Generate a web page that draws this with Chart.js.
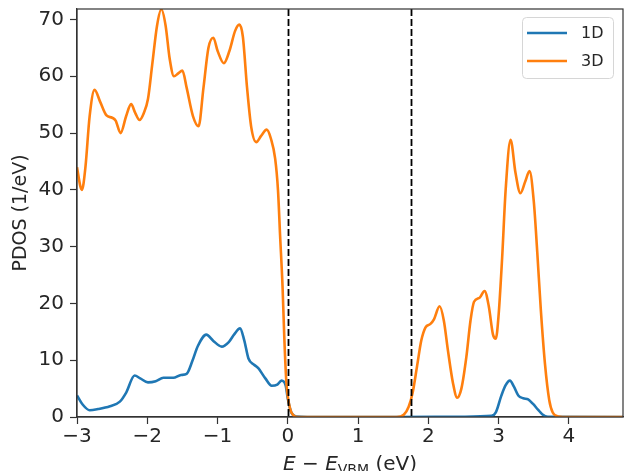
<!DOCTYPE html>
<html>
<head>
<meta charset="utf-8">
<script src="https://cdn.jsdelivr.net/npm/chart.js@4/dist/chart.umd.min.js"></script>
<style>
  body { margin: 0; background: #fff; }
  canvas { display: block; }
</style>
</head>
<body>
<canvas id="pdos" width="625" height="471"></canvas>
<script>
// PDOS
const x1D = [-3, -2.92, -2.82, -2.7, -2.53, -2.39, -2.3, -2.18, -2.1, -1.99, -1.88, -1.77, -1.63, -1.52, -1.44, -1.36, -1.28, -1.16, -1.06, -0.94, -0.84, -0.76, -0.68, -0.62, -0.56, -0.48, -0.42, -0.32, -0.23, -0.15, -0.09, -0.03, 0, 0.05, 0.12, 0.5, 1.5, 2.5, 2.9, 2.96, 3.04, 3.1, 3.16, 3.22, 3.28, 3.35, 3.42, 3.49, 3.56, 3.62, 3.7, 4.77];
const y1D = [3.8, 2.2, 1.2, 1.4, 1.9, 2.7, 4.3, 7.3, 6.8, 6.1, 6.3, 6.9, 6.9, 7.4, 7.6, 9.8, 12.5, 14.5, 13.4, 12.4, 13.2, 14.6, 15.6, 13.5, 10.3, 9.2, 8.6, 6.8, 5.5, 5.7, 6.4, 5.5, 3.2, 0.8, 0.1, 0, 0, 0.05, 0.2, 0.8, 3.8, 5.6, 6.4, 5.3, 3.8, 3.3, 3.1, 2.3, 1.3, 0.5, 0.05, 0];

const x3D = [-3, -2.95, -2.93, -2.88, -2.82, -2.75, -2.67, -2.58, -2.5, -2.45, -2.38, -2.3, -2.23, -2.17, -2.11, -2.05, -1.99, -1.93, -1.86, -1.8, -1.74, -1.68, -1.62, -1.56, -1.5, -1.44, -1.35, -1.27, -1.2, -1.13, -1.06, -1.0, -0.91, -0.83, -0.75, -0.69, -0.64, -0.58, -0.52, -0.45, -0.38, -0.3, -0.24, -0.18, -0.14, -0.11, -0.075, -0.05, -0.02, 0.03, 0.08, 0.15, 1.55, 1.65, 1.72, 1.78, 1.84, 1.9, 1.96, 2.03, 2.08, 2.16, 2.22, 2.28, 2.35, 2.41, 2.47, 2.54, 2.6, 2.65, 2.73, 2.8, 2.86, 2.92, 2.96, 3.0, 3.05, 3.1, 3.17, 3.24, 3.31, 3.38, 3.44, 3.5, 3.55, 3.6, 3.66, 3.72, 3.77, 3.85, 4.0, 4.77];
const y3D = [44.0, 40.5, 40.0, 44, 53, 57.6, 55.5, 53.1, 52.7, 52.2, 50.0, 53, 55.1, 53.5, 52.3, 53.5, 56, 62, 69, 71.8, 69, 63, 60, 60.5, 61.0, 58, 53, 51.2, 58, 65, 66.8, 64.5, 62.3, 64.5, 68, 69.1, 67, 58, 51, 48.4, 49.5, 50.6, 49, 45.5, 40, 32, 23, 14, 6, 1.6, 0.3, 0, 0, 0.4, 1.8, 4.5, 9, 13.5, 15.8, 16.4, 17.2, 19.5, 17, 11.6, 6, 3.4, 5, 10.5, 17, 20.3, 21.0, 22.2, 19.5, 14.5, 13.8, 18, 28, 40, 48.8, 43, 39.4, 41.5, 43.3, 38, 29, 19, 9.3, 3, 0.8, 0.1, 0, 0];

const xTicks = [-3, -2, -1, 0, 1, 2, 3, 4];
const yTicks = [0, 10, 20, 30, 40, 50, 60, 70];
const vLines = [0, 1.75]; // VBM and CBM

const FONT = "'DejaVu Sans', sans-serif";
const INK = '#262626';

const toPoints = (xs, ys) => xs.map((x, i) => ({ x, y: ys[i] }));

const framePlugin = {
  id: 'frame',
  afterDatasetsDraw(chart) {
    const { ctx, chartArea: a, scales } = chart;
    ctx.save();
    ctx.strokeStyle = '#000';
    ctx.lineWidth = 1.8;
    ctx.setLineDash([7, 3]);
    vLines.forEach((v) => {
      const px = Math.round(scales.x.getPixelForValue(v)) + 0.5;
      ctx.beginPath();
      ctx.moveTo(px, a.top);
      ctx.lineTo(px, a.bottom);
      ctx.stroke();
    });
    ctx.restore();
  },
  afterDraw(chart) {
    const { ctx, chartArea: a } = chart;
    ctx.save();
    // box around the axes
    ctx.strokeStyle = '#333';
    ctx.lineWidth = 1.2;
    ctx.strokeRect(a.left, a.top, a.right - a.left, a.bottom - a.top);

    // legend, upper right
    const lx = 522, ly = 17, lw = 91, lh = 61;
    ctx.fillStyle = 'rgba(255,255,255,0.8)';
    ctx.strokeStyle = '#d6d6d6';
    ctx.lineWidth = 1;
    ctx.beginPath();
    ctx.roundRect(lx + 0.5, ly + 0.5, lw, lh, 4);
    ctx.fill();
    ctx.stroke();
    chart.data.datasets.forEach((ds, i) => {
      const y = 33 + i * 28;
      ctx.strokeStyle = ds.borderColor;
      ctx.lineWidth = ds.borderWidth;
      ctx.beginPath();
      ctx.moveTo(527, y);
      ctx.lineTo(567, y);
      ctx.stroke();
      ctx.fillStyle = INK;
      ctx.font = `16px ${FONT}`;
      ctx.textAlign = 'left';
      ctx.textBaseline = 'middle';
      ctx.fillText(ds.label, 581, y + 1);
    });

    // x axis title: E − E_VBM (eV)
    const parts = [
      { t: 'E', f: `italic 20px ${FONT}`, dy: 0 },
      { t: ' \u2212 ', f: `20px ${FONT}`, dy: 0 },
      { t: 'E', f: `italic 20px ${FONT}`, dy: 0 },
      { t: 'VBM', f: `14px ${FONT}`, dy: 4 },
      { t: ' (eV)', f: `20px ${FONT}`, dy: 0 }
    ];
    let total = 0;
    parts.forEach((p) => { ctx.font = p.f; p.w = ctx.measureText(p.t).width; total += p.w; });
    let cx = (a.left + a.right) / 2 - total / 2;
    const base = 470;
    ctx.fillStyle = INK;
    ctx.textAlign = 'left';
    ctx.textBaseline = 'alphabetic';
    parts.forEach((p) => {
      ctx.font = p.f;
      ctx.fillText(p.t, cx, base + p.dy);
      cx += p.w;
    });
    ctx.restore();
  }
};

new Chart(document.getElementById('pdos'), {
  type: 'line',
  data: {
    datasets: [
      {
        label: '1D',
        data: toPoints(x1D, y1D),
        borderColor: '#1f77b4',
        borderWidth: 2.6,
        pointRadius: 0,
        cubicInterpolationMode: 'monotone',
        order: 1
      },
      {
        label: '3D',
        data: toPoints(x3D, y3D),
        borderColor: '#ff7f0e',
        borderWidth: 2.6,
        pointRadius: 0,
        cubicInterpolationMode: 'monotone',
        order: 0
      }
    ]
  },
  options: {
    responsive: false,
    animation: false,
    layout: { padding: { top: 9, right: 2, left: 0, bottom: 0 } },
    plugins: {
      legend: { display: false },
      tooltip: { enabled: false }
    },
    scales: {
      x: {
        type: 'linear',
        min: -3,
        max: 4.77,
        afterBuildTicks: (s) => { s.ticks = xTicks.map((v) => ({ value: v })); },
        afterFit: (s) => { s.height = 54; s.paddingLeft = 0; s.paddingRight = 0; },
        ticks: {
          color: INK,
          font: { family: FONT, size: 20 },
          padding: 1,
          maxRotation: 0,
          callback: (v) => String(v).replace('-', '\u2212')
        },
        grid: { drawOnChartArea: false, tickLength: 7, tickColor: '#333', tickWidth: 1.2 },
        border: { color: '#333', width: 1.2 }
      },
      y: {
        min: 0,
        max: 71.85,
        afterBuildTicks: (s) => { s.ticks = yTicks.map((v) => ({ value: v })); },
        afterFit: (s) => { s.width = 77; s.paddingTop = 0; s.paddingBottom = 0; },
        ticks: {
          color: INK,
          font: { family: FONT, size: 20 },
          padding: 6
        },
        grid: { drawOnChartArea: false, tickLength: 7, tickColor: '#333', tickWidth: 1.2 },
        border: { color: '#333', width: 1.2 },
        title: {
          display: true,
          text: 'PDOS (1/eV)',
          color: INK,
          font: { family: FONT, size: 19 },
          padding: { top: 10, bottom: 0 }
        }
      }
    }
  },
  plugins: [framePlugin]
});
</script>
</body>
</html>
